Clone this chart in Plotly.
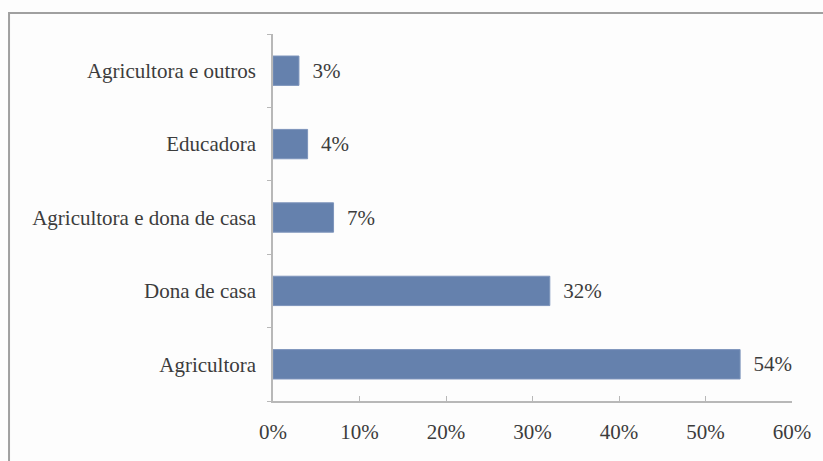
import plotly.graph_objects as go

categories = ["Agricultora", "Dona de casa", "Agricultora e dona de casa", "Educadora", "Agricultora e outros"]
values = [54, 32, 7, 4, 3]
x_ticks = [0, 10, 20, 30, 40, 50, 60]
x_tick_labels = [f"{t}%" for t in x_ticks]

W, H = 823, 461
L, R, T, B = 273, 27, 34, 60
pw = W - L - R
ph = H - T - B

font = dict(family="Liberation Serif, Times New Roman, serif", size=21, color="#3c3c3c")

fig = go.Figure(go.Bar(
    y=categories, x=values, orientation="h",
    marker=dict(color="#6581ad", line=dict(color="#7d94bb", width=1)),
    width=0.4,
    text=[f"\u00a0\u00a0{v}%" for v in values], textposition="outside",
    textfont=font, cliponaxis=False,
))

fig.update_layout(
    width=W, height=H,
    margin=dict(l=L, r=R, t=T, b=B, pad=0),
    paper_bgcolor="#fdfdfd", plot_bgcolor="#fdfdfd",
    font=font, showlegend=False,
    xaxis=dict(range=[0, 60], tickvals=x_ticks, ticktext=x_tick_labels,
               showgrid=False, zeroline=False, showline=True, linecolor="#b8b8b8", linewidth=1.5,
               ticks="inside", ticklen=5, tickcolor="#b8b8b8", ticklabelstandoff=11, tickfont=font),
    yaxis=dict(showgrid=False, zeroline=False, showline=True, linecolor="#b8b8b8", linewidth=1.5,
               ticks="outside", ticklen=4, tickcolor="#b8b8b8", tickson="boundaries",
               ticklabelstandoff=11, tickfont=font, range=[-0.5, 4.5]),
    shapes=[dict(type="rect", xref="paper", yref="paper",
                 x0=(7 - L) / pw, x1=(W + 10 - L) / pw,
                 y0=(H - B - (H + 10)) / ph, y1=(H - B - 13) / ph,
                 line=dict(color="#a0a0a0", width=2), fillcolor="rgba(0,0,0,0)", layer="below")],
)

fig.write_html("out.html", config={"displayModeBar": False},
               post_script="document.body.style.margin='0';document.body.style.overflow='hidden';")
